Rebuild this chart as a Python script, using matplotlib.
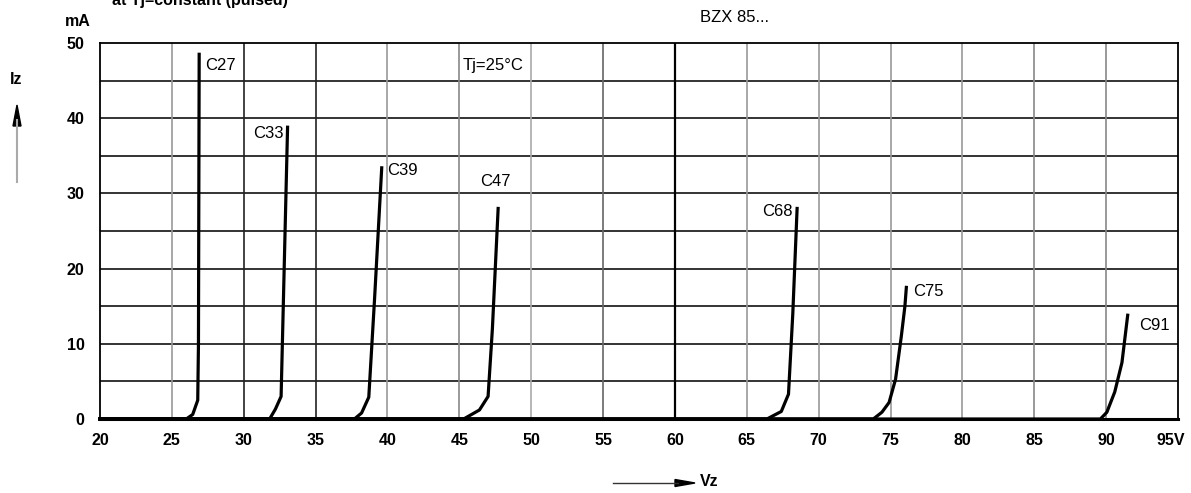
"""
BZX 85... breakdown characteristics, Iz vs Vz at Tj=25°C
Saves out.png
"""

import matplotlib.pyplot as plt
from matplotlib.lines import Line2D
import matplotlib.transforms as mtransforms

plt.rcParams["font.family"] = ["Liberation Sans", "DejaVu Sans"]

# curve data (Vz in V, Iz in mA)
C27_V = [20, 26.0, 26.45, 26.8, 26.85, 26.9]
C27_I = [0, 0, 0.6, 2.5, 10, 48.5]
C33_V = [20, 31.8, 32.2, 32.6, 33.05]
C33_I = [0, 0, 1.3, 3.0, 38.8]
C39_V = [20, 37.7, 38.2, 38.7, 39.1, 39.6]
C39_I = [0, 0, 0.8, 2.9, 15.9, 33.4]
C47_V = [20, 45.3, 46.4, 47.0, 47.3, 47.7]
C47_I = [0, 0, 1.2, 3.0, 12, 28.0]
C68_V = [20, 66.4, 67.4, 67.9, 68.2, 68.5]
C68_I = [0, 0, 1.0, 3.3, 14, 28.0]
C75_V = [20, 73.8, 74.4, 74.9, 75.35, 75.75, 76.0, 76.1]
C75_I = [0, 0, 0.9, 2.2, 5.3, 11.0, 15.0, 17.5]
C91_V = [20, 89.6, 90.05, 90.6, 91.1, 91.5]
C91_I = [0, 0, 0.9, 3.6, 7.5, 13.8]

CURVES = [
    ("C27", C27_V, C27_I, 27.3, 47.0, "left"),
    ("C33", C33_V, C33_I, 32.75, 38.0, "right"),
    ("C39", C39_V, C39_I, 40.0, 33.1, "left"),
    ("C47", C47_V, C47_I, 47.5, 31.6, "center"),
    ("C68", C68_V, C68_I, 68.2, 27.6, "right"),
    ("C75", C75_V, C75_I, 76.6, 17.0, "left"),
    ("C91", C91_V, C91_I, 92.3, 12.5, "left"),
]

X_TICKS = list(range(20, 96, 5))
X_LABELS = [str(v) for v in X_TICKS[:-1]] + ["95V"]
Y_TICKS = [0, 10, 20, 30, 40, 50]

# gridline shades for the vertical lines (scan shows mixed tones)
VGRID_COLOR = {25: "#999999", 30: "#222222", 35: "#222222", 40: "#999999",
               45: "#888888", 50: "#aaaaaa", 55: "#666666", 60: "#000000",
               65: "#999999", 70: "#999999", 75: "#999999", 80: "#999999",
               85: "#888888", 90: "#888888"}


def plot_characteristics():
    fig = plt.figure(figsize=(11.91, 4.93), dpi=100)
    ax = fig.add_axes([100 / 1191, 74 / 493, 1078 / 1191, 376 / 493])
    ax.set_xlim(20, 95)
    ax.set_ylim(0, 50)

    for y in range(5, 50, 5):
        ax.axhline(y, color="#111111", linewidth=1.2, zorder=1)
    for x, c in VGRID_COLOR.items():
        ax.axvline(x, color=c, linewidth=1.6 if x == 60 else 1.2, zorder=1)

    for name, v, i, lx, ly, ha in CURVES:
        ax.plot(v, i, color="black", linewidth=2.3, solid_joinstyle="round",
                clip_on=False, zorder=3)
        ax.text(lx, ly, name, ha=ha, va="center", fontsize=12)

    ax.text(45.2, 47.0, "Tj=25°C", ha="left", va="center", fontsize=12)

    for side in ["top", "left", "right"]:
        ax.spines[side].set_linewidth(1.3)
    ax.spines["bottom"].set_linewidth(2.2)

    ax.set_xticks(X_TICKS)
    ax.set_xticklabels(X_LABELS, fontsize=11.5, fontweight="bold")
    ax.set_yticks(Y_TICKS)
    ax.set_yticklabels([str(v) for v in Y_TICKS], fontsize=11.5, fontweight="bold")
    ax.tick_params(axis="x", length=0, pad=10)
    ax.tick_params(axis="y", length=0, pad=11)
    last = ax.get_xticklabels()[-1]
    last.set_transform(last.get_transform() +
                       mtransforms.ScaledTranslation(-7 / 100, 0, fig.dpi_scale_trans))

    # header texts (the first line is cut by the top edge, as in the scan)
    fig.text(112 / 1191, 1 - 5 / 493, "at Tj=constant (pulsed)", ha="left",
             va="baseline", fontsize=11.5, fontweight="bold")
    fig.text(700 / 1191, 1 - 18 / 493, "BZX 85...", ha="left", va="center",
             fontsize=12)
    fig.text(65 / 1191, 1 - 22 / 493, "mA", ha="left", va="center",
             fontsize=11.5, fontweight="bold")

    # Iz axis arrow
    fig.text(16 / 1191, 1 - 80 / 493, "Iz", ha="center", va="center",
             fontsize=11.5, fontweight="bold")
    fig.add_artist(Line2D([17 / 1191, 17 / 1191], [1 - 182 / 493, 1 - 120 / 493],
                          transform=fig.transFigure, color="#aaaaaa", linewidth=1.5))
    fig.add_artist(plt.Polygon([[13 / 1191, 1 - 126 / 493], [21 / 1191, 1 - 126 / 493],
                                [17 / 1191, 1 - 105 / 493]], closed=True,
                               transform=fig.transFigure, color="black"))

    # Vz axis arrow
    fig.add_artist(Line2D([613 / 1191, 678 / 1191], [1 - 483 / 493, 1 - 483 / 493],
                          transform=fig.transFigure, color="#333333", linewidth=1.0))
    fig.add_artist(plt.Polygon([[675 / 1191, 1 - 479.5 / 493], [675 / 1191, 1 - 486.5 / 493],
                                [695 / 1191, 1 - 483 / 493]], closed=True,
                               transform=fig.transFigure, color="black"))
    fig.text(700 / 1191, 1 - 482 / 493, "Vz", ha="left", va="center",
             fontsize=11.5, fontweight="bold")

    fig.savefig("out.png", dpi=100)
    plt.close(fig)


if __name__ == "__main__":
    plot_characteristics()
